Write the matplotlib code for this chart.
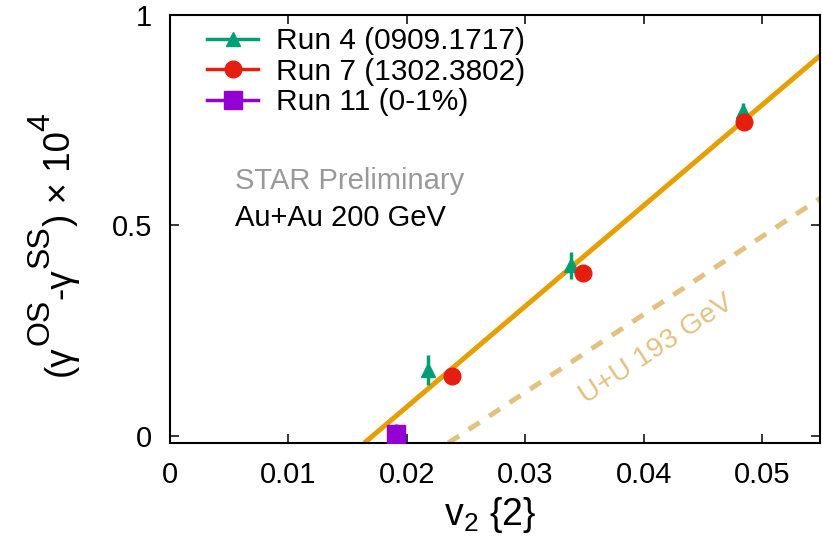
import numpy as np
import matplotlib
matplotlib.use("Agg")
import matplotlib.pyplot as plt
from matplotlib.lines import Line2D
from matplotlib.transforms import IdentityTransform

plt.rcParams['font.family'] = ['Liberation Sans', 'DejaVu Sans']
plt.rcParams['mathtext.fontset'] = 'custom'
plt.rcParams['mathtext.rm'] = 'Liberation Sans'
plt.rcParams['mathtext.it'] = 'Liberation Sans'

# gamma correlator difference vs v2{2}
run4_x = [0.0218, 0.0339, 0.0484]
run4_y = [0.157, 0.405, 0.772]
run4_err = [0.036, 0.033, 0.02]

run7_x = [0.0238, 0.0349, 0.0485]
run7_y = [0.143, 0.387, 0.745]
run7_err = [0.006, 0.006, 0.006]

run11_x = [0.0191]
run11_y = [0.004]
run11_err = [0.025]

# linear fits (slope, x-intercept)
auau_fit = (23.9, 0.01711)
uu_fit = (18.5, 0.0244)

W, H = 822, 540
fig = plt.figure(figsize=(W/100, H/100), dpi=100)
ax = fig.add_axes([170/W, 1-443/H, 650/W, 428/H])

ymin, ymax = -0.0167, 1.0
for (k, x0), c, ls in [(auau_fit, '#e69f00', None), (uu_fit, '#e3c181', (2.6, 2.3))]:
    xx = np.linspace(x0 + ymin/k, 0.055, 100)
    line, = ax.plot(xx, k*(xx - x0), color=c, lw=3.6, zorder=2 if ls is None else 1,
                    solid_capstyle='butt')
    if ls is not None:
        line.set_dashes(ls)

ax.errorbar(run4_x, run4_y, yerr=run4_err, fmt='^', color='#009e73', ms=10,
            elinewidth=2.5, capsize=0, zorder=3)
ax.errorbar(run7_x, run7_y, yerr=run7_err, fmt='o', color='#e51e10', ms=12,
            elinewidth=2.5, capsize=0, zorder=4)
ax.errorbar(run11_x, run11_y, yerr=run11_err, fmt='s', color='#9400d3', ms=13,
            elinewidth=2.5, capsize=0, zorder=5)

ax.set_xlim(0, 0.0549)
ax.set_ylim(ymin, ymax)
ax.set_xticks([0, 0.01, 0.02, 0.03, 0.04, 0.05])
ax.set_xticklabels(['0', '0.01', '0.02', '0.03', '0.04', '0.05'])
ax.set_yticks([0, 0.5, 1])
ax.set_yticklabels(['0', '0.5', '1'])
ax.tick_params(direction='in', length=6.5, width=1.1, labelsize=21,
               top=True, right=True)
ax.tick_params(axis='x', pad=13)
ax.tick_params(axis='y', pad=13)
for s in ax.spines.values():
    s.set_linewidth(1.5)

handles = [
    Line2D([], [], color='#009e73', marker='^', ms=10, lw=2.5),
    Line2D([], [], color='#e51e10', marker='o', ms=12, lw=2.5),
    Line2D([], [], color='#9400d3', marker='s', ms=13, lw=2.5),
]
labels = ['Run 4 (0909.1717)', 'Run 7 (1302.3802)', 'Run 11 (0-1%)']
ax.legend(handles, labels, loc='upper left', bbox_to_anchor=(0.048, 0.986),
          frameon=False, fontsize=21.5, handlelength=1.7, handletextpad=0.62,
          labelspacing=0.09, borderaxespad=0.0, borderpad=0.2)

ax.text(0.00549, 0.586, 'STAR Preliminary', color='#999999', fontsize=21,
        va='baseline')
ax.text(0.00549, 0.498, 'Au+Au 200 GeV', color='black', fontsize=21,
        va='baseline')
ax.text(0.0411, 0.205, 'U+U 193 GeV', color='#e3c181', fontsize=20.5,
        rotation=33.3, ha='center', va='center', rotation_mode='anchor')

# x label
fig.text(490/W, 1-525/H, r'v$_2$ {2}', fontsize=27, ha='center', va='baseline')

# y label built piecewise so superscripts keep a large size
pieces = [('(\u03b3', 26.5, 0), ('OS', 23, -21), ('-\u03b3', 26.5, 0),
          ('SS', 23, -21), (') \u00d7 10', 26.5, 0), ('4', 23, -21)]
renderer = fig.canvas.get_renderer()
xb, yb = 70, H - 376
for s, size, dx in pieces:
    t = fig.text(xb + dx, yb, s, fontsize=size, rotation=90,
                 rotation_mode='anchor', ha='left', va='baseline',
                 transform=IdentityTransform())
    yb += t.get_window_extent(renderer=renderer).height

fig.savefig('out.png', dpi=100)
